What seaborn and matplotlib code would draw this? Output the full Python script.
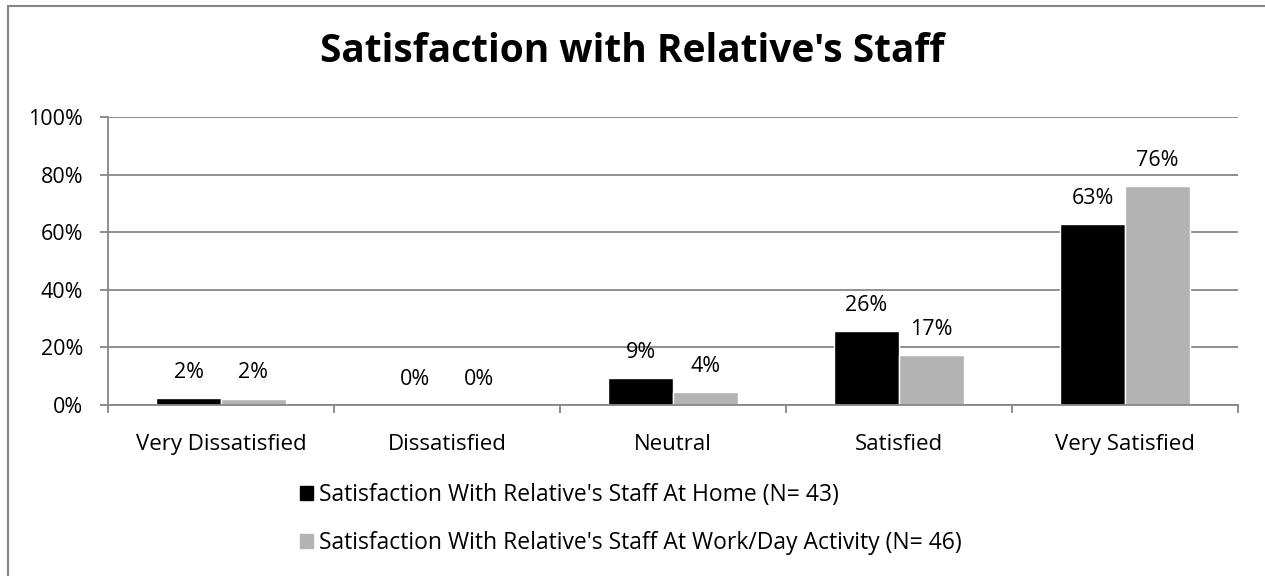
import matplotlib
matplotlib.use("Agg")
import matplotlib.pyplot as plt
import matplotlib.patches as mpatches
import numpy as np
import pandas as pd
import seaborn as sns

# data (counts / N)
categories = ["Very Dissatisfied", "Dissatisfied", "Neutral", "Satisfied", "Very Satisfied"]
home_label = "Satisfaction With Relative's Staff At Home (N= 43)"
work_label = "Satisfaction With Relative's Staff At Work/Day Activity (N= 46)"
home_vals = [1 / 43, 0.0, 4 / 43, 11 / 43, 27 / 43]
work_vals = [1 / 46, 0.0, 2 / 46, 8 / 46, 35 / 46]
y_ticks = [0, 0.2, 0.4, 0.6, 0.8, 1.0]

df = pd.DataFrame({
    "category": categories * 2,
    "series": [home_label] * 5 + [work_label] * 5,
    "value": home_vals + work_vals,
})

sns.set_theme(style="white")
plt.rcParams["font.family"] = ["Open Sans", "DejaVu Sans"]
plt.rcParams["text.color"] = "black"
plt.rcParams["xtick.color"] = "black"
plt.rcParams["ytick.color"] = "black"

W, H = 1265, 576
fig = plt.figure(figsize=(W / 100, H / 100), dpi=100)
ax = fig.add_axes([108 / W, 1 - 405 / H, (1238 - 108) / W, (405 - 117) / H])

grey = "#868686"
sns.barplot(data=df, x="category", y="value", hue="series", order=categories,
            palette=["#000000", "#b3b3b3"], width=0.575, gap=0, ax=ax,
            saturation=1, legend=True)

for cont in ax.containers:
    ax.bar_label(cont, labels=[f"{v * 100:.0f}%" for v in cont.datavalues],
                 padding=11, fontsize=15.5, color="black")

ax.set_ylim(0, 1.0)
ax.set_xlim(-0.5, len(categories) - 0.5)
ax.set_yticks(y_ticks)
ax.set_yticklabels([f"{t * 100:.0f}%" for t in y_ticks], fontsize=15.5)
ax.yaxis.grid(True, color=grey, linewidth=1.3)
ax.set_axisbelow(True)
ax.set_xlabel("")
ax.set_ylabel("")

ax.set_xticks(range(len(categories)))
ax.set_xticklabels(categories, fontsize=16)
ax.set_xticks(np.arange(-0.5, len(categories), 1.0), minor=True)
ax.tick_params(axis="x", which="major", length=0, pad=21)
ax.tick_params(axis="x", which="minor", length=6, width=1.3, color=grey, direction="out", bottom=True)
ax.tick_params(axis="y", length=6, width=1.3, color=grey, direction="out", left=True, pad=12)

for side in ["top", "right"]:
    ax.spines[side].set_visible(False)
for side in ["left", "bottom"]:
    ax.spines[side].set_color(grey)
    ax.spines[side].set_linewidth(1.3)

ax.get_legend().remove()
handles = [mpatches.Patch(color="#000000"), mpatches.Patch(color="#b3b3b3")]
fig.legend(handles, [home_label, work_label], loc="center left",
           bbox_to_anchor=(300 / W, 1 - 519 / H), frameon=False, fontsize=16.5,
           handlelength=0.55, handleheight=0.55, handletextpad=0.3,
           labelspacing=1.05, borderpad=0, borderaxespad=0)

fig.text(0.5, 1 - 52 / H, "Satisfaction with Relative's Staff", ha="center", va="center",
         fontsize=28, fontweight="bold")

# outer chart border (only top and left fall inside the image)
fig.patches.append(mpatches.Rectangle((8 / W, -0.1), 1.2, 1 - 6 / H + 0.1,
                                      transform=fig.transFigure, fill=False,
                                      edgecolor=grey, linewidth=1.5))

fig.savefig("out.png", dpi=100)
